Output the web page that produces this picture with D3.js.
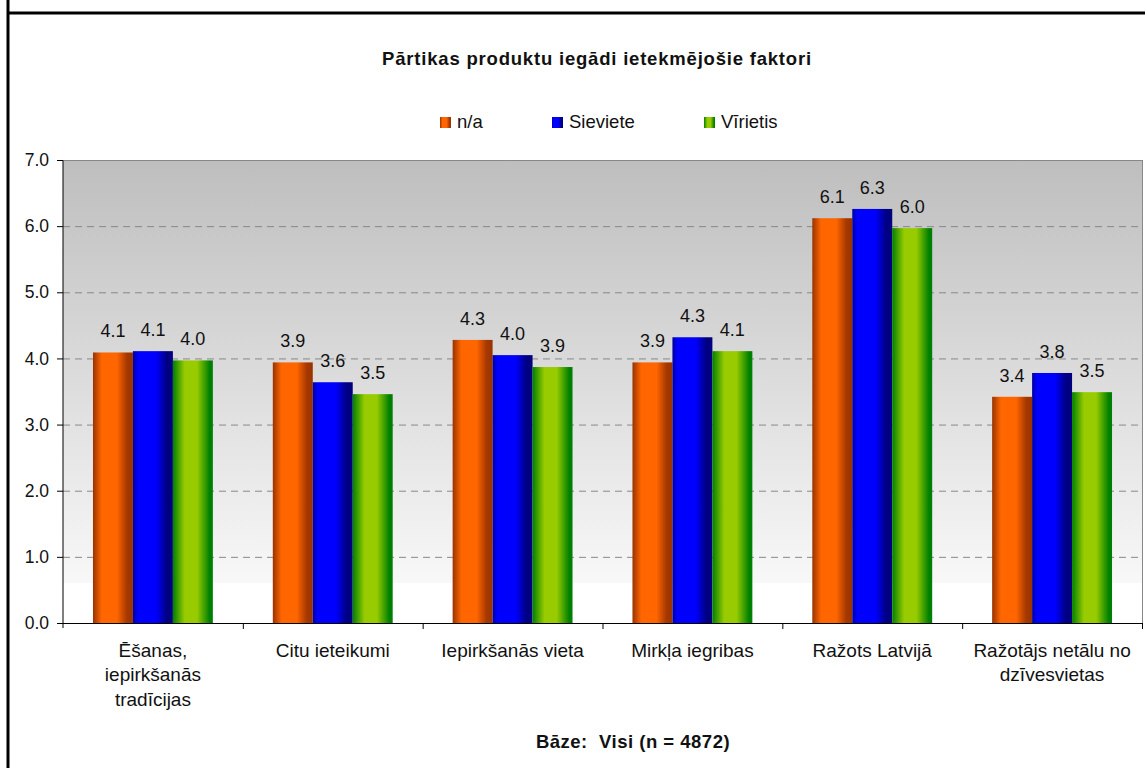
<!DOCTYPE html>
<html><head><meta charset="utf-8">
<script src="https://cdn.jsdelivr.net/npm/d3@7"></script>
<style>body{margin:0;background:#fff}svg{display:block;font-family:"Liberation Sans",Arial,sans-serif}</style>
</head><body><svg id="c" width="1145" height="768"></svg>
<script>
const categories = ["Ēšanas,\niepirkšanās\ntradīcijas","Citu ieteikumi","Iepirkšanās vieta","Mirkļa iegribas","Ražots Latvijā","Ražotājs netālu no\ndzīvesvietas"];
const seriesNames = ["n/a","Sieviete","Vīrietis"];
const valuesNA = [4.09,3.94,4.28,3.94,6.12,3.42];
const valuesSieviete = [4.11,3.64,4.05,4.32,6.26,3.78];
const valuesVirietis = [3.97,3.46,3.87,4.11,5.97,3.49];
const yTicks = [0,1,2,3,4,5,6,7];
const title = "Pārtikas produktu iegādi ietekmējošie faktori";
const footer = "Bāze:  Visi (n = 4872)";

const series = [valuesNA, valuesSieviete, valuesVirietis];
const svg = d3.select("#c");
const defs = svg.append("defs");
const M = {l:63, r:1142, t:160, b:623};

const grads = [
  [[0,"#993300"],[0.22,"#ff6600"],[0.6,"#ff6600"],[0.85,"#a63800"],[1,"#993300"]],
  [[0,"#000099"],[0.12,"#0000ff"],[0.58,"#0000ff"],[0.85,"#000080"],[1,"#000080"]],
  [[0,"#008000"],[0.3,"#99cc00"],[0.6,"#99cc00"],[0.92,"#008000"],[1,"#008000"]]
];
grads.forEach((g,i)=>{
  const lg = defs.append("linearGradient").attr("id","g"+i).attr("x1",0).attr("x2",1).attr("y1",0).attr("y2",0);
  g.forEach(s=>lg.append("stop").attr("offset",s[0]).attr("stop-color",s[1]));
});
const bg = defs.append("linearGradient").attr("id","bg").attr("x1",0).attr("x2",0).attr("y1",0).attr("y2",1);
[[0,"#bebebe"],[0.913,"#f8f8f8"],[0.913,"#ffffff"],[1,"#ffffff"]].forEach(s=>bg.append("stop").attr("offset",s[0]).attr("stop-color",s[1]));

const x = d3.scaleBand().domain(categories).range([M.l,M.r]).paddingInner(0).paddingOuter(0);
const x1 = d3.scaleBand().domain(seriesNames).range([0,x.bandwidth()]).paddingInner(0).paddingOuter(0.75);
const y = d3.scaleLinear().domain([0,7]).range([M.b,M.t]);

// frame
svg.append("line").attr("x1",8).attr("x2",1145).attr("y1",13).attr("y2",13).attr("stroke","#000").attr("stroke-width",3);
svg.append("line").attr("x1",8).attr("x2",8).attr("y1",0).attr("y2",768).attr("stroke","#000").attr("stroke-width",3);

// plot bg
svg.append("rect").attr("x",M.l).attr("y",M.t).attr("width",M.r-M.l).attr("height",M.b-M.t).attr("fill","url(#bg)");
// grid
svg.append("g").selectAll("line").data(yTicks.filter(d=>d>0&&d<7)).join("line")
  .attr("x1",M.l).attr("x2",M.r).attr("y1",d=>y(d)+0.5).attr("y2",d=>y(d)+0.5)
  .attr("stroke","#888").attr("stroke-dasharray","7,5");
svg.append("line").attr("x1",M.l).attr("x2",M.r).attr("y1",M.t+0.5).attr("y2",M.t+0.5).attr("stroke","#888");
svg.append("line").attr("x1",M.r+0.5).attr("x2",M.r+0.5).attr("y1",M.t).attr("y2",M.b).attr("stroke","#888");

// bars
const groups = svg.append("g").selectAll("g").data(categories).join("g").attr("transform",d=>`translate(${x(d)},0)`);
groups.each(function(c,ci){
  const g = d3.select(this);
  seriesNames.forEach((s,si)=>{
    const v = series[si][ci];
    g.append("rect").attr("x",x1(s)).attr("width",x1.bandwidth()).attr("y",y(v)).attr("height",y(0)-y(v)).attr("fill",`url(#g${si})`);
    g.append("text").attr("x",x1(s)+x1.bandwidth()/2).attr("y",y(v)-15).attr("text-anchor","middle")
      .attr("font-size",18).attr("fill","#111").text(v.toFixed(1));
  });
});

// y axis
const ya = svg.append("g").attr("transform",`translate(${M.l},0)`)
  .call(d3.axisLeft(y).tickValues(yTicks).tickFormat(d3.format(".1f")).tickSize(6).tickPadding(8));
ya.select(".domain").attr("stroke","#000").attr("d",`M-6,${M.t+0.5}H0V${M.b+5}`);
ya.selectAll(".tick line").attr("stroke","#000");
ya.selectAll(".tick text").attr("font-size",17.5).attr("fill","#111").attr("font-family","Liberation Sans, Arial");

// x axis
const xa = svg.append("g").attr("transform",`translate(0,${M.b})`);
xa.append("line").attr("x1",M.l).attr("x2",M.r+1).attr("y1",0.5).attr("y2",0.5).attr("stroke","#000");
xa.selectAll("line.tk").data(categories.slice(1)).join("line").attr("class","tk")
  .attr("x1",d=>x(d)+0.5).attr("x2",d=>x(d)+0.5).attr("y1",0).attr("y2",6).attr("stroke","#000");
xa.append("line").attr("x1",M.r+0.5).attr("x2",M.r+0.5).attr("y1",0).attr("y2",6).attr("stroke","#000");
xa.selectAll("text").data(categories).join("text")
  .attr("x",d=>x(d)+x.bandwidth()/2).attr("y",34).attr("text-anchor","middle").attr("font-size",19).attr("fill","#111")
  .each(function(d){
    const t = d3.select(this);
    d.split("\n").forEach((ln,i)=>t.append("tspan").attr("x",x(d)+x.bandwidth()/2).attr("dy",i?24.3:0).text(ln));
  });

// title
svg.append("text").attr("x",597).attr("y",65).attr("text-anchor","middle").attr("font-size",18.5).attr("letter-spacing",0.8).attr("font-weight","bold").attr("fill","#111").text(title);
svg.append("text").attr("x",633).attr("y",748).attr("text-anchor","middle").attr("font-size",18.5).attr("letter-spacing",0.5).attr("font-weight","bold").attr("fill","#111").style("white-space","pre").text(footer);

// legend
const legX = [440,552,704];
const lg = svg.append("g");
seriesNames.forEach((s,i)=>{
  lg.append("rect").attr("x",legX[i]).attr("y",117).attr("width",11).attr("height",11).attr("fill",`url(#g${i})`);
  lg.append("text").attr("x",legX[i]+17).attr("y",127.5).attr("font-size",18.5).attr("fill","#111").text(s);
});
</script></body></html>
